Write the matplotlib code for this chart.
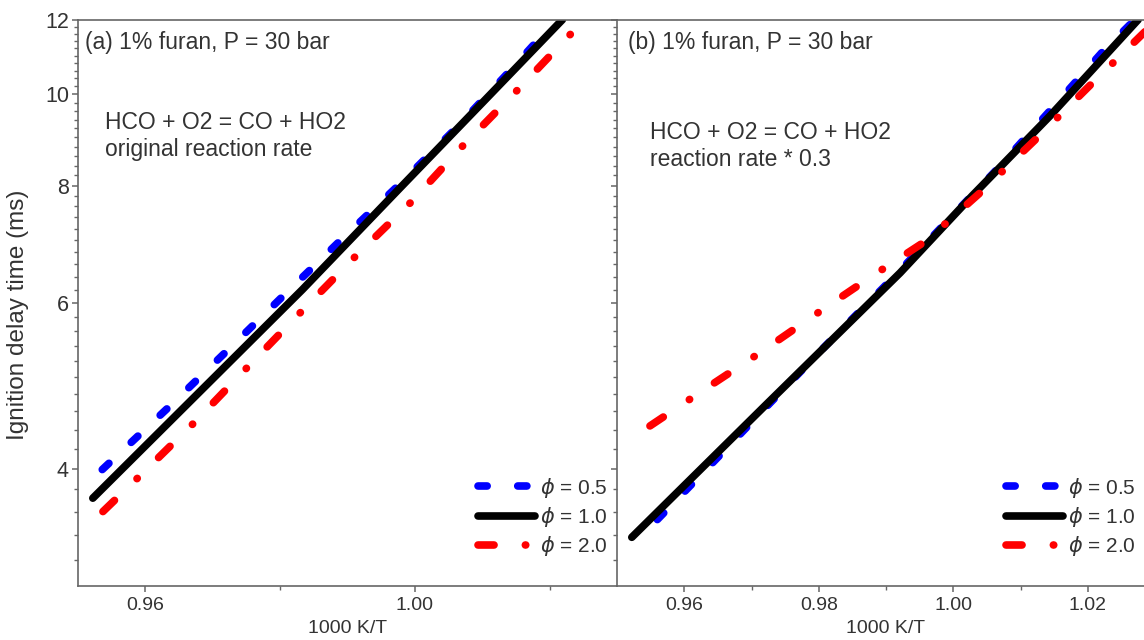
import numpy as np
import matplotlib
matplotlib.use('Agg')
from matplotlib import pyplot as plt
from matplotlib.ticker import FixedLocator, FixedFormatter

plt.rcParams['font.family'] = ['Liberation Sans', 'DejaVu Sans']
plt.rcParams['mathtext.fontset'] = 'dejavusans'

# (a) original HCO + O2 rate
a_x_05 = [0.9536, 0.9632, 0.9718, 0.9802, 0.9891, 0.9977, 1.0062, 1.0143, 1.0193]
a_y_05 = [3.99, 4.63, 5.31, 6.08, 7.01, 8.02, 9.22, 10.63, 11.64]
a_x_10 = [0.9522, 0.9681, 0.9833, 0.9977, 1.0096, 1.0219]
a_y_10 = [3.72, 4.83, 6.20, 7.94, 9.73, 12.01]
a_x_20 = [0.9537, 0.9592, 0.9673, 0.9753, 0.9833, 0.9913, 0.9995, 1.0070, 1.0150, 1.0232]
a_y_20 = [3.60, 3.93, 4.48, 5.14, 5.89, 6.74, 7.69, 8.80, 10.07, 11.61]

# (b) reaction rate * 0.3
b_x_05 = [0.9560, 0.9644, 0.9728, 0.9812, 0.9897, 0.9979, 1.0062, 1.0141, 1.0221, 1.0263]
b_y_05 = [3.53, 4.07, 4.70, 5.42, 6.24, 7.18, 8.28, 9.56, 11.08, 11.87]
b_x_10 = [0.9522, 0.9722, 0.9921, 1.0028, 1.0144, 1.0275]
b_y_10 = [3.38, 4.68, 6.46, 7.80, 9.49, 12.01]
b_x_20 = [0.9549, 0.9631, 0.9714, 0.9796, 0.9878, 0.9960, 1.0040, 1.0122, 1.0203, 1.0285]
b_y_20 = [4.44, 4.86, 5.32, 5.84, 6.40, 6.99, 7.86, 8.95, 10.22, 11.66]

labels = [r'$\phi$ = 0.5', r'$\phi$ = 1.0', r'$\phi$ = 2.0']
y_major = [4, 6, 8, 10, 12]
y_minor = [v for v in np.round(np.arange(3.2, 12.0, 0.2), 1) if v not in y_major]

txt = '#333333'
spine = '#666666'
lw = 5.5

fig = plt.figure(figsize=(11.44, 6.4), dpi=100)
ax1 = fig.add_axes([78/1144, 54/640, 539/1144, 566/640])
ax2 = fig.add_axes([617/1144, 54/640, 538/1144, 566/640], sharey=ax1)


def draw(ax, x05, y05, x10, y10, x20, y20):
    ax.plot(x05, y05, color='#0000ff', lw=lw, ls=(0, (1.2, 4.0)),
            dash_capstyle='round', label=labels[0])
    ax.plot(x10, y10, color='black', lw=lw, solid_capstyle='round', label=labels[1])
    ax.plot(x20, y20, color='#ff0000', lw=lw, ls=(0, (2.1, 4.1, 0.05, 3.9)),
            dash_capstyle='round', label=labels[2])
    ax.set_yscale('log')
    ax.set_ylim(3, 12)
    ax.set_xlim(0.95, 1.03)
    ax.spines['right'].set_visible(False)
    for s in ['left', 'top', 'bottom']:
        ax.spines[s].set_color(spine)
        ax.spines[s].set_linewidth(1.2)
    ax.tick_params(which='both', direction='out', color=spine, labelcolor=txt,
                   top=False, right=False)
    ax.tick_params(axis='x', labelsize=14)
    ax.tick_params(axis='y', labelsize=15.5, pad=2)
    ax.tick_params(which='major', length=4.5, width=1.1)
    ax.tick_params(which='minor', length=3, width=1.0)
    ax.set_xlabel('1000 K/T', fontsize=14, color=txt, labelpad=4)
    leg = ax.legend(loc='center', frameon=False, fontsize=15, handlelength=2.75,
                    handletextpad=0.25, labelspacing=0.25, borderpad=0)
    for t in leg.get_texts():
        t.set_color(txt)


draw(ax1, a_x_05, a_y_05, a_x_10, a_y_10, a_x_20, a_y_20)
draw(ax2, b_x_05, b_y_05, b_x_10, b_y_10, b_x_20, b_y_20)

ax1.get_legend().set_bbox_to_anchor((0.863, 0.122), transform=ax1.transAxes)
ax2.get_legend().set_bbox_to_anchor((0.844, 0.122), transform=ax2.transAxes)

ax1.yaxis.set_major_locator(FixedLocator(y_major))
ax1.yaxis.set_major_formatter(FixedFormatter([str(v) for v in y_major]))
ax1.yaxis.set_minor_locator(FixedLocator(y_minor))
ax1.yaxis.set_minor_formatter(FixedFormatter([]))
ax2.tick_params(axis='y', which='both', labelleft=False)

ax1.xaxis.set_major_locator(FixedLocator([0.96, 1.00]))
ax1.xaxis.set_major_formatter(FixedFormatter(['0.96', '1.00']))
ax1.xaxis.set_minor_locator(FixedLocator([0.98, 1.02]))
ax2.xaxis.set_major_locator(FixedLocator([0.96, 0.98, 1.00, 1.02]))
ax2.xaxis.set_major_formatter(FixedFormatter(['0.96', '0.98', '1.00', '1.02']))
ax2.xaxis.set_minor_locator(FixedLocator([0.97, 0.99, 1.01]))

ax1.set_ylabel('Ignition delay time (ms)', fontsize=17.5, color=txt)
ax1.yaxis.set_label_coords(-0.09, 0.48)

ax1.text(0.013, 0.961, '(a) 1% furan, P = 30 bar', transform=ax1.transAxes,
         fontsize=16.5, color=txt, va='center', ha='left')
ax1.text(0.05, 0.795, 'HCO + O2 = CO + HO2\noriginal reaction rate', transform=ax1.transAxes,
         fontsize=16.5, color=txt, va='center', ha='left', linespacing=1.2)
ax2.text(0.02, 0.961, '(b) 1% furan, P = 30 bar', transform=ax2.transAxes,
         fontsize=16.5, color=txt, va='center', ha='left')
ax2.text(0.061, 0.777, 'HCO + O2 = CO + HO2\nreaction rate * 0.3', transform=ax2.transAxes,
         fontsize=16.5, color=txt, va='center', ha='left', linespacing=1.2)

fig.savefig('out.png', dpi=100)
